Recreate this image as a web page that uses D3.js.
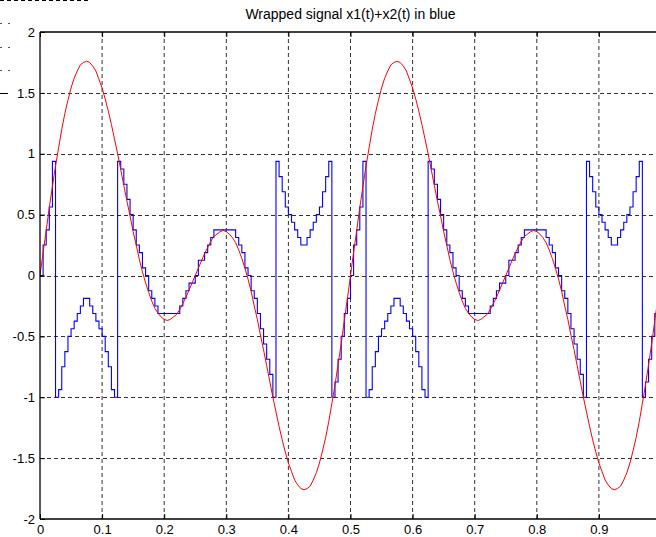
<!DOCTYPE html>
<html>
<head>
<meta charset="utf-8">
<script src="https://cdn.jsdelivr.net/npm/d3@7"></script>
<style>
  html, body { margin: 0; padding: 0; background: #fff; }
  svg { display: block; font-family: "Liberation Sans", Arial, sans-serif; }
</style>
</head>
<body>
<div id="chart"></div>
<script>
(function () {
  'use strict';

  // sample spacing of both signals (seconds)
  const dt = 0.005;

  // red: the sum signal x1(t)+x2(t), every 0.005 s
  const redValues = [
    0.00, 0.19, 0.37, 0.56, 0.73, 0.90, 1.05, 1.20, 1.33, 1.44, 1.54, 1.62, 1.68, 1.73, 1.75, 1.76, 1.75, 1.72, 1.68, 1.61,
    1.54, 1.45, 1.35, 1.24, 1.12, 1.00, 0.87, 0.74, 0.61, 0.49, 0.36, 0.25, 0.13, 0.03, -0.06, -0.14, -0.21, -0.27, -0.31, -0.34,
    -0.36, -0.37, -0.36, -0.34, -0.32, -0.28, -0.23, -0.18, -0.12, -0.06, 0.00, 0.06, 0.12, 0.18, 0.23, 0.28, 0.32, 0.34, 0.36, 0.37,
    0.36, 0.34, 0.31, 0.27, 0.21, 0.14, 0.06, -0.03, -0.13, -0.25, -0.36, -0.49, -0.61, -0.74, -0.87, -1.00, -1.12, -1.24, -1.35, -1.45,
    -1.54, -1.61, -1.68, -1.72, -1.75, -1.76, -1.75, -1.73, -1.68, -1.62, -1.54, -1.44, -1.33, -1.20, -1.05, -0.90, -0.73, -0.56, -0.37, -0.19,
    0.00, 0.19, 0.37, 0.56, 0.73, 0.90, 1.05, 1.20, 1.33, 1.44, 1.54, 1.62, 1.68, 1.73, 1.75, 1.76, 1.75, 1.72, 1.68, 1.61,
    1.54, 1.45, 1.35, 1.24, 1.12, 1.00, 0.87, 0.74, 0.61, 0.49, 0.36, 0.25, 0.13, 0.03, -0.06, -0.14, -0.21, -0.27, -0.31, -0.34,
    -0.36, -0.37, -0.36, -0.34, -0.32, -0.28, -0.23, -0.18, -0.12, -0.06, 0.00, 0.06, 0.12, 0.18, 0.23, 0.28, 0.32, 0.34, 0.36, 0.37,
    0.36, 0.34, 0.31, 0.27, 0.21, 0.14, 0.06, -0.03, -0.13, -0.25, -0.36, -0.49, -0.61, -0.74, -0.87, -1.00, -1.12, -1.24, -1.35, -1.45,
    -1.54, -1.61, -1.68, -1.72, -1.75, -1.76, -1.75, -1.73, -1.68, -1.62, -1.54, -1.44, -1.33, -1.20, -1.05, -0.90, -0.73, -0.56, -0.37, -0.19,
    0.00
  ];

  // blue: the wrapped (quantized, overflowing) signal, held between samples
  const blueValues = [
    0, 0.25, 0.375, 0.5625, 0.9375, -1, -0.9375, -0.75, -0.625, -0.5, -0.4375, -0.375, -0.3125, -0.25, -0.1875, -0.1875, -0.25, -0.3125, -0.375, -0.4375,
    -0.5, -0.625, -0.75, -0.9375, -1, 0.9375, 0.875, 0.75, 0.625, 0.5, 0.375, 0.25, 0.1875, 0.0625, 0, -0.125, -0.1875, -0.25, -0.3125, -0.3125,
    -0.3125, -0.3125, -0.3125, -0.3125, -0.3125, -0.25, -0.1875, -0.125, -0.0625, -0.0625, 0, 0.125, 0.125, 0.1875, 0.25, 0.3125, 0.375, 0.375, 0.375, 0.375,
    0.375, 0.375, 0.375, 0.3125, 0.25, 0.1875, 0.0625, 0, -0.125, -0.1875, -0.3125, -0.4375, -0.5625, -0.6875, -0.8125, -1, 0.9375, 0.8125, 0.6875, 0.5625,
    0.5, 0.4375, 0.375, 0.3125, 0.25, 0.25, 0.3125, 0.375, 0.4375, 0.5, 0.5625, 0.6875, 0.8125, 0.9375, -1, -0.875, -0.6875, -0.5, -0.3125, -0.1875,
    0, 0.25, 0.375, 0.5625, 0.9375, -1, -0.9375, -0.75, -0.625, -0.5, -0.4375, -0.375, -0.3125, -0.25, -0.1875, -0.1875, -0.25, -0.3125, -0.375, -0.4375,
    -0.5, -0.625, -0.75, -0.9375, -1, 0.9375, 0.875, 0.75, 0.625, 0.5, 0.375, 0.25, 0.1875, 0.0625, 0, -0.125, -0.1875, -0.25, -0.3125, -0.3125,
    -0.3125, -0.3125, -0.3125, -0.3125, -0.3125, -0.25, -0.1875, -0.125, -0.0625, -0.0625, 0, 0.125, 0.125, 0.1875, 0.25, 0.3125, 0.375, 0.375, 0.375, 0.375,
    0.375, 0.375, 0.375, 0.3125, 0.25, 0.1875, 0.0625, 0, -0.125, -0.1875, -0.3125, -0.4375, -0.5625, -0.6875, -0.8125, -1, 0.9375, 0.8125, 0.6875, 0.5625,
    0.5, 0.4375, 0.375, 0.3125, 0.25, 0.25, 0.3125, 0.375, 0.4375, 0.5, 0.5625, 0.6875, 0.8125, 0.9375, -1, -0.875, -0.6875, -0.5, -0.3125, -0.1875,
    0
  ];

  // tick positions and their labels
  const xTicks = [0, 0.1, 0.2, 0.3, 0.4, 0.5, 0.6, 0.7, 0.8, 0.9];
  const xTickLabels = ['0', '0.1', '0.2', '0.3', '0.4', '0.5', '0.6', '0.7', '0.8', '0.9'];
  const yTicks = [-2, -1.5, -1, -0.5, 0, 0.5, 1, 1.5, 2];
  const yTickLabels = ['-2', '-1.5', '-1', '-0.5', '0', '0.5', '1', '1.5', '2'];

  const title = 'Wrapped signal x1(t)+x2(t) in blue';

  const width = 656;
  const height = 537;
  // axes box; the right part of it runs past the window
  const plot = { left: 40, top: 32, right: 661, bottom: 519 };

  const svg = d3.select('#chart')
    .append('svg')
    .attr('width', width)
    .attr('height', height);

  svg.append('rect')
    .attr('width', width)
    .attr('height', height)
    .attr('fill', '#fff');

  const x = d3.scaleLinear().domain([0, 1]).range([plot.left, plot.right]);
  const y = d3.scaleLinear().domain([-2, 2]).range([plot.bottom, plot.top]);

  // pieces of the neighbouring subplots that got cut into the picture
  const edge = svg.append('g').attr('class', 'edge');
  edge.append('line')
    .attr('x1', 0).attr('x2', 88).attr('y1', 0.5).attr('y2', 0.5)
    .attr('stroke', '#000').attr('stroke-dasharray', '4,3');
  edge.selectAll('line.dot')
    .data([23, 47, 70])
    .join('line')
    .attr('class', 'dot')
    .attr('x1', 0).attr('x2', 12).attr('y1', (d) => d + 0.5).attr('y2', (d) => d + 0.5)
    .attr('stroke', '#555').attr('stroke-dasharray', '2,6');
  edge.append('line')
    .attr('x1', 0).attr('x2', 8).attr('y1', 93.5).attr('y2', 93.5)
    .attr('stroke', '#000');

  // dashed grid
  const grid = svg.append('g').attr('class', 'grid')
    .attr('stroke', '#333')
    .attr('stroke-width', 1)
    .attr('stroke-dasharray', '4,3');

  grid.selectAll('line.v')
    .data(xTicks.filter((d) => d > 0))
    .join('line')
    .attr('class', 'v')
    .attr('x1', (d) => x(d)).attr('x2', (d) => x(d))
    .attr('y1', plot.top).attr('y2', plot.bottom);

  grid.selectAll('line.h')
    .data(yTicks.filter((d) => d > -2 && d < 2))
    .join('line')
    .attr('class', 'h')
    .attr('x1', plot.left).attr('x2', plot.right)
    .attr('y1', (d) => Math.round(y(d)) + 0.5).attr('y2', (d) => Math.round(y(d)) + 0.5);

  // clip the signals to the axes box
  svg.append('clipPath')
    .attr('id', 'clip')
    .append('rect')
    .attr('x', plot.left).attr('y', plot.top)
    .attr('width', plot.right - plot.left).attr('height', plot.bottom - plot.top);

  const blueLine = d3.line()
    .x((d, i) => x(i * dt))
    .y((d) => y(d))
    .curve(d3.curveStepAfter);

  const redLine = d3.line()
    .x((d, i) => x(i * dt))
    .y((d) => y(d));

  const lines = svg.append('g').attr('clip-path', 'url(#clip)');

  lines.append('path')
    .datum(blueValues)
    .attr('d', blueLine)
    .attr('fill', 'none')
    .attr('stroke', '#0000ff')
    .attr('stroke-width', 1.1);

  lines.append('path')
    .datum(redValues)
    .attr('d', redLine)
    .attr('fill', 'none')
    .attr('stroke', '#ff0000')
    .attr('stroke-width', 1);

  // axes with ticks pointing inward
  const xAxis = d3.axisBottom(x)
    .tickValues(xTicks)
    .tickFormat((d, i) => xTickLabels[i])
    .tickSize(-5)
    .tickPadding(6);

  const yAxis = d3.axisLeft(y)
    .tickValues(yTicks)
    .tickFormat((d, i) => yTickLabels[i])
    .tickSize(-5)
    .tickPadding(5);

  const xTop = d3.axisTop(x)
    .tickValues(xTicks)
    .tickFormat('')
    .tickSize(-5);

  const gx = svg.append('g')
    .attr('transform', `translate(0,${plot.bottom})`)
    .call(xAxis);

  const gy = svg.append('g')
    .attr('transform', `translate(${plot.left},0)`)
    .call(yAxis);

  const gt = svg.append('g')
    .attr('transform', `translate(0,${plot.top})`)
    .call(xTop);

  [gx, gy, gt].forEach((g) => {
    g.select('.domain').remove();
    g.selectAll('line').attr('stroke', '#000');
    g.selectAll('text')
      .attr('fill', '#000')
      .style('font-size', '13px')
      .style('font-family', '"Liberation Sans", Arial, sans-serif');
  });

  // box edges (left, bottom, top)
  const box = svg.append('g').attr('stroke', '#000').attr('stroke-width', 1.3);
  box.append('line')
    .attr('x1', plot.left).attr('x2', plot.left)
    .attr('y1', plot.top).attr('y2', plot.bottom);
  box.append('line')
    .attr('x1', plot.left).attr('x2', width)
    .attr('y1', plot.bottom).attr('y2', plot.bottom);
  box.append('line')
    .attr('x1', plot.left).attr('x2', width)
    .attr('y1', plot.top).attr('y2', plot.top);

  svg.append('text')
    .attr('x', (plot.left + plot.right) / 2)
    .attr('y', 19)
    .attr('text-anchor', 'middle')
    .style('font-size', '14px')
    .text(title);
})();
</script>
</body>
</html>
